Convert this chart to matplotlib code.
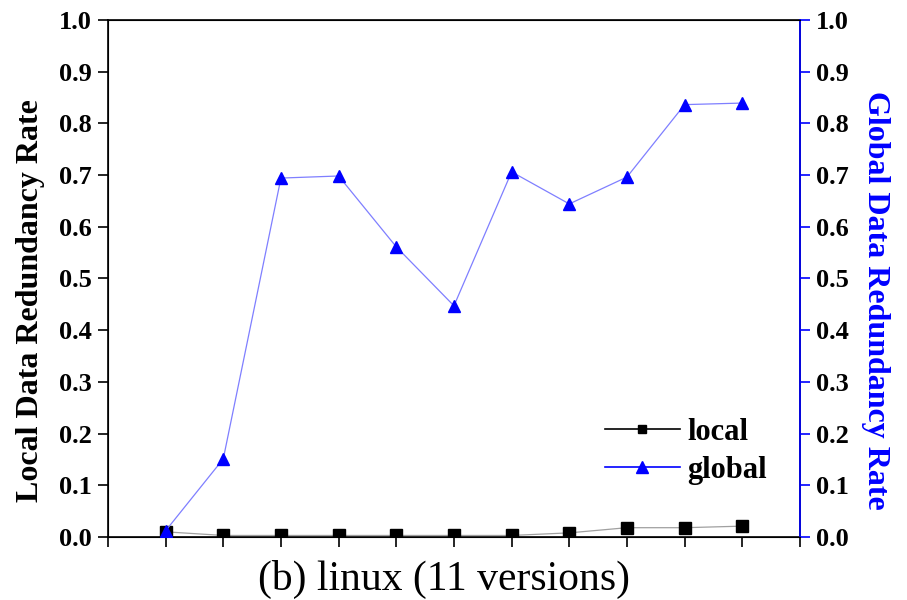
import matplotlib.pyplot as plt
from matplotlib.lines import Line2D

plt.rcParams["font.family"] = ["Liberation Serif", "DejaVu Serif"]

versions = list(range(1, 12))
local_rate = [0.010, 0.003, 0.003, 0.003, 0.003, 0.003, 0.003, 0.008, 0.018, 0.018, 0.021]
global_rate = [0.012, 0.151, 0.694, 0.698, 0.561, 0.447, 0.706, 0.644, 0.696, 0.836, 0.839]
yticks = [round(0.1 * i, 1) for i in range(11)]

fig = plt.figure(figsize=(9.07, 6.0), dpi=100)
ax = fig.add_axes([0.119, 0.105, 0.763, 0.862])
ax2 = ax.twinx()

ax.plot(versions, local_rate, color="#a0a0a0", lw=0.9, marker="s", ms=8,
        mfc="black", mec="black", zorder=3)
ax2.plot(versions, global_rate, color="#7f7fff", lw=0.9, marker="^", ms=8,
         mfc="blue", mec="blue", zorder=3)

ax.set_xlim(0, 12)
ax.set_xticks(range(0, 13))
ax.set_xticklabels([])
for a in (ax, ax2):
    a.set_ylim(0, 1.0)
    a.set_yticks(yticks)
    a.set_yticklabels([f"{t:.1f}" for t in yticks], fontsize=19, fontweight="bold")
ax.tick_params(axis="both", direction="out", length=7, width=1.2, pad=4.5)
ax2.tick_params(axis="y", direction="out", length=7, width=1.2, colors="blue",
                labelcolor="black", pad=4.5)
for s in ax.spines.values():
    s.set_linewidth(1.2)
ax2.spines["right"].set_color("blue")
ax2.spines["right"].set_linewidth(1.2)

ax.set_ylabel("Local Data Redundancy Rate", fontsize=23, fontweight="bold")
ax.yaxis.set_label_coords(-0.091, 0.458)
ax2.set_ylabel("Global Data Redundancy Rate", fontsize=23, fontweight="bold",
               color="blue", rotation=270, va="bottom")
ax2.yaxis.set_label_coords(1.088, 0.458)
fig.text(0.49, 0.035, "(b) linux (11 versions)", fontsize=30, ha="center", va="center")

handles = [
    Line2D([], [], color="black", lw=1.2, marker="s", ms=6, mfc="black", mec="black"),
    Line2D([], [], color="blue", lw=1.2, marker="^", ms=8, mfc="blue", mec="blue"),
]
fig.legend(handles, ["local", "global"], loc="upper left",
           bbox_to_anchor=(605 / 907, 1 - 418 / 600), borderpad=0, borderaxespad=0,
           frameon=False, numpoints=1, handlelength=2.45, handletextpad=0.25,
           prop={"size": 22, "weight": "bold"}, labelspacing=0.3)

fig.savefig("out.png", dpi=100)
